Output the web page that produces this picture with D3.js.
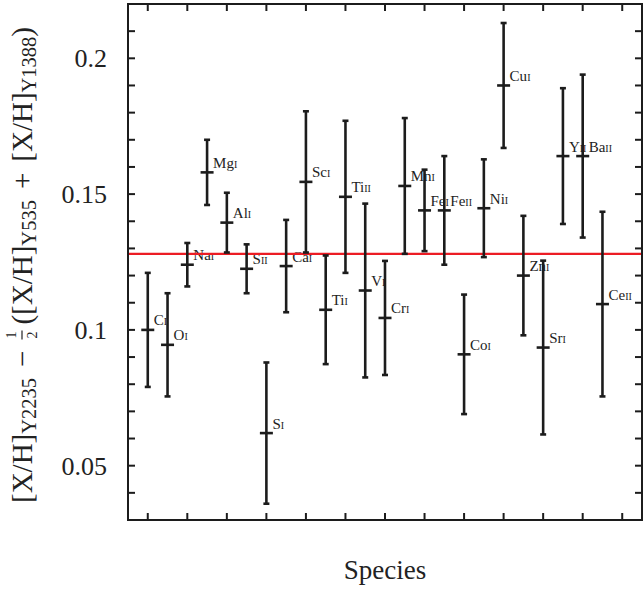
<!DOCTYPE html>
<html lang="en">
<head>
    <meta charset="UTF-8">
    <title>Abundance differences by species</title>
    <script src="https://d3js.org/d3.v7.min.js"></script>
    <style>
        body {
            margin: 0;
            padding: 0;
            background-color: #fff;
        }
        svg text {
            font-family: "Liberation Serif", "DejaVu Serif", serif;
            fill: #222;
        }
    </style>
</head>
<body>
    <div id="chart"></div>
    <script>
        // Species along the x axis (element + ionisation stage)
        const elements = ["C", "O", "Na", "Mg", "Al", "S", "S", "Ca", "Sc", "Ti", "Ti", "V",
                          "Cr", "Mn", "Fe", "Fe", "Co", "Ni", "Cu", "Zn", "Sr", "Y", "Ba", "Ce"];
        const ions = ["I", "I", "I", "I", "I", "II", "I", "I", "I", "I", "II", "I",
                      "I", "I", "I", "II", "I", "I", "I", "I", "I", "II", "II", "II"];
        // Differential abundance and its error bar
        const values = [0.100, 0.0945, 0.124, 0.158, 0.1395, 0.1225, 0.062, 0.1235, 0.1545, 0.1074, 0.149, 0.1145,
                        0.1044, 0.153, 0.144, 0.144, 0.091, 0.1448, 0.190, 0.120, 0.0935, 0.164, 0.164, 0.1095];
        const errors = [0.021, 0.019, 0.008, 0.012, 0.011, 0.009, 0.026, 0.017, 0.026, 0.020, 0.028, 0.032,
                        0.021, 0.025, 0.015, 0.020, 0.022, 0.018, 0.023, 0.022, 0.032, 0.025, 0.030, 0.034];
        // Mean offset (red line)
        const meanValue = 0.128;
        // Axis ticks
        const yMinorTicks = d3.range(0.03, 0.2201, 0.01);
        const yTickLabels = [0.05, 0.1, 0.15, 0.2];
        const xTicks = d3.range(1, 26, 2);

        const W = 643, H = 590;
        const margin = {top: 4, right: 1, bottom: 70, left: 128};

        const svg = d3.select("#chart").append("svg")
            .attr("width", W)
            .attr("height", H);

        const x = d3.scaleLinear().domain([0, 26]).range([margin.left, W - margin.right]);
        const y = d3.scaleLinear().domain([0.03, 0.22]).range([H - margin.bottom, margin.top]);

        const ink = "#1c1c1c";
        const tickLen = 7;

        // Ticks on all four sides, pointing inwards
        const ticks = svg.append("g").attr("stroke", ink).attr("stroke-width", 2);
        yMinorTicks.forEach(v => {
            ticks.append("line").attr("x1", x(0)).attr("x2", x(0) + tickLen).attr("y1", y(v)).attr("y2", y(v));
            ticks.append("line").attr("x1", x(26)).attr("x2", x(26) - tickLen).attr("y1", y(v)).attr("y2", y(v));
        });
        xTicks.forEach(t => {
            ticks.append("line").attr("x1", x(t)).attr("x2", x(t)).attr("y1", y(0.03)).attr("y2", y(0.03) - tickLen);
            ticks.append("line").attr("x1", x(t)).attr("x2", x(t)).attr("y1", y(0.22)).attr("y2", y(0.22) + tickLen);
        });

        // Y tick labels
        svg.append("g").selectAll("text")
            .data(yTickLabels)
            .enter().append("text")
            .attr("x", 107)
            .attr("y", d => y(d) + 9)
            .attr("text-anchor", "end")
            .attr("font-size", 26)
            .text(d => d);

        // Species labels (drawn first so the bars sit on top of them)
        const labels = svg.append("g");
        values.forEach((v, i) => {
            const t = labels.append("text")
                .attr("x", x(i + 1) + 6)
                .attr("y", y(v) - 4.5)
                .attr("font-size", 15);
            t.append("tspan").text(elements[i]);
            t.append("tspan").attr("font-size", 10).text(ions[i]);
        });

        // Mean line
        svg.append("line")
            .attr("x1", x(0)).attr("x2", x(26))
            .attr("y1", y(meanValue)).attr("y2", y(meanValue))
            .attr("stroke", "#ec1c24")
            .attr("stroke-width", 2.2);

        // Error bars
        const bars = svg.append("g").attr("stroke", ink).attr("stroke-width", 2.6);
        values.forEach((v, i) => {
            const cx = x(i + 1);
            bars.append("line").attr("x1", cx).attr("x2", cx)
                .attr("y1", y(v - errors[i])).attr("y2", y(v + errors[i]));
            [v - errors[i], v + errors[i]].forEach(e => {
                bars.append("line").attr("x1", cx - 3).attr("x2", cx + 3).attr("y1", y(e)).attr("y2", y(e));
            });
            bars.append("line").attr("x1", cx - 6.5).attr("x2", cx + 6.5).attr("y1", y(v)).attr("y2", y(v));
        });

        // Frame
        svg.append("rect")
            .attr("x", x(0)).attr("y", y(0.22))
            .attr("width", x(26) - x(0)).attr("height", y(0.03) - y(0.22))
            .attr("fill", "none")
            .attr("stroke", ink)
            .attr("stroke-width", 2);

        // X axis title
        svg.append("text")
            .attr("x", (x(0) + x(26)) / 2)
            .attr("y", 579)
            .attr("text-anchor", "middle")
            .attr("font-size", 27)
            .text("Species");

        // Y axis title, built piece by piece along a rotated baseline
        // (local x runs upwards on screen; start at screen y = 503)
        const yLab = svg.append("g").attr("transform", "translate(32,503) rotate(-90)");
        const pieces = [
            {t: "[X/H]", s: 29, dy: 0}, {t: "Y2235", s: 20.5, dy: 4}, {gap: 11},
            {t: "−", s: 29, dy: 0}, {gap: 11}, {frac: true}, {gap: 6},
            {t: "([X/H]", s: 29, dy: 0}, {t: "Y535", s: 20.5, dy: 4}, {gap: 11},
            {t: "+", s: 29, dy: 0}, {gap: 11},
            {t: "[X/H]", s: 29, dy: 0}, {t: "Y1388", s: 20.5, dy: 4}, {t: ")", s: 29, dy: 0}
        ];
        let cursor = 0;
        pieces.forEach(p => {
            if (p.gap) { cursor += p.gap; return; }
            if (p.frac) {
                const one = yLab.append("text").attr("x", cursor + 1).attr("y", -16).attr("font-size", 14).text("1");
                const two = yLab.append("text").attr("x", cursor + 1).attr("y", 5).attr("font-size", 14).text("2");
                const fw = Math.max(one.node().getComputedTextLength(), two.node().getComputedTextLength()) + 2;
                yLab.append("line").attr("x1", cursor).attr("x2", cursor + fw)
                    .attr("y1", -10).attr("y2", -10).attr("stroke", "#222").attr("stroke-width", 1.2);
                cursor += fw;
                return;
            }
            const el = yLab.append("text").attr("x", cursor).attr("y", p.dy).attr("font-size", p.s).text(p.t);
            cursor += el.node().getComputedTextLength();
        });
    </script>
</body>
</html>
